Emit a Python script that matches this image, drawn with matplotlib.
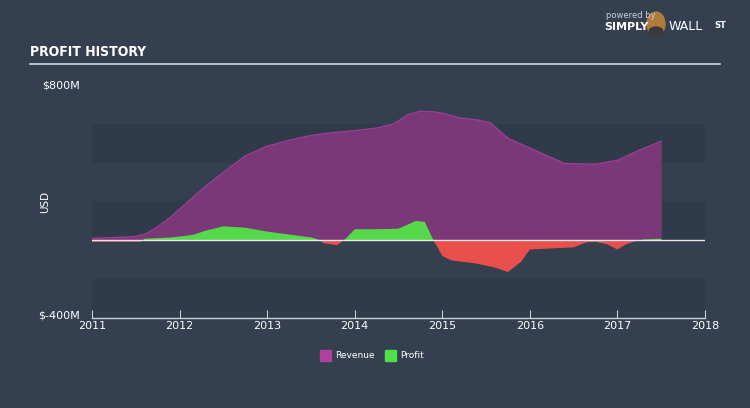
import numpy as np
import matplotlib.pyplot as plt
from matplotlib.patches import Ellipse

# values in $M
years_rev = [2011.0, 2011.25, 2011.5, 2011.6, 2011.75, 2011.9, 2012.0, 2012.15, 2012.3,
             2012.5, 2012.75, 2013.0, 2013.25, 2013.5, 2013.75, 2014.0, 2014.25,
             2014.45, 2014.6, 2014.75, 2014.9, 2015.0, 2015.2, 2015.4, 2015.55,
             2015.75, 2016.0, 2016.25, 2016.4, 2016.75, 2017.0, 2017.25, 2017.5]
revenue = [10, 14, 20, 30, 70, 120, 160, 220, 280, 350, 435, 485, 515, 540, 555,
           565, 578, 600, 645, 665, 662, 655, 630, 620, 605, 525, 475, 425, 395,
           392, 412, 464, 510]

years_prof = [2011.0, 2011.3, 2011.55, 2011.6, 2011.9, 2012.0, 2012.15, 2012.3,
              2012.5, 2012.75, 2013.0, 2013.25, 2013.5, 2013.58, 2013.65, 2013.8,
              2013.9, 2014.0, 2014.25, 2014.5, 2014.7, 2014.8, 2014.9, 2015.0,
              2015.1, 2015.4, 2015.6, 2015.75, 2015.9, 2016.0, 2016.5, 2016.65,
              2016.75, 2016.88, 2017.0, 2017.1, 2017.2, 2017.3, 2017.5]
profit = [-8, -8, -8, 8, 15, 20, 28, 50, 72, 65, 45, 30, 15, 5, -15, -25,
          10, 57, 57, 60, 100, 95, 0, -80, -103, -120, -140, -163, -110, -47,
          -36, -10, -8, -20, -47, -20, -5, 5, 8]

year_ticks = [2011, 2012, 2013, 2014, 2015, 2016, 2017, 2018]

bg = '#34404f'
band = '#303b4a'
purple = '#7b3878'
green = '#55d94b'
red = '#ea504b'

fig = plt.figure(figsize=(7.5, 4.08), dpi=100)
fig.patch.set_facecolor(bg)
ax = fig.add_axes([92 / 750, 1 - 318 / 408, 613 / 750, 233 / 408])
ax.set_facecolor(bg)

# alternating horizontal bands
for lo, hi in [(400, 600), (0, 200), (-400, -200)]:
    ax.axhspan(lo, hi, color=band, lw=0, zorder=0)

yr = np.array(years_rev)
rv = np.array(revenue)
ax.fill_between(yr, 0, rv, color=purple, lw=0, zorder=2)
ax.plot(yr, rv, color='#9a3f94', lw=1, zorder=2)

yp = np.array(years_prof)
pf = np.array(profit)
ax.fill_between(yp, 0, pf, where=pf >= 0, interpolate=True, color=green, lw=0, zorder=3)
ax.fill_between(yp, 0, pf, where=pf <= 0, interpolate=True, color=red, lw=0, zorder=3)
ax.axhline(0, color='#e6e6e6', lw=1, zorder=4)

ax.set_xlim(2011, 2018)
ax.set_ylim(-400, 800)
for s in ['top', 'right', 'left']:
    ax.spines[s].set_visible(False)
ax.spines['bottom'].set_color('#c9d1d9')
ax.spines['bottom'].set_linewidth(1)
ax.set_xticks(year_ticks)
ax.set_xticklabels([str(y) for y in year_ticks])
ax.tick_params(axis='x', colors='#c9d1d9', labelcolor='white', direction='in',
               length=6, labelsize=8, pad=2)
ax.set_yticks([])

fig.text(80 / 750, 1 - 85 / 408, '$800M', color='white', fontsize=8, ha='right', va='center')
fig.text(80 / 750, 1 - 315 / 408, '$-400M', color='white', fontsize=8, ha='right', va='center')
fig.text(45 / 750, 1 - 202 / 408, 'USD', color='white', fontsize=7.5, rotation=90,
         ha='center', va='center')

# header
fig.text(30 / 750, 1 - 52 / 408, 'PROFIT HISTORY', color='white', fontsize=10,
         fontweight='bold', fontstretch='condensed', family='DejaVu Sans',
         ha='left', va='center')
fig.add_artist(plt.Line2D([30 / 750, 720 / 750], [1 - 64 / 408, 1 - 64 / 408],
                          color='#c8d8e4', lw=1.2))
fig.text(606 / 750, 1 - 15 / 408, 'powered by', color='#c9d1d9', fontsize=6,
         ha='left', va='center')
fig.text(604 / 750, 1 - 27 / 408, 'SIMPLY', color='white', fontsize=8,
         fontweight='bold', ha='left', va='center')
fig.add_artist(Ellipse((656 / 750, 1 - 24 / 408), 18 / 750, 24 / 408,
                       color='#b07a3a', transform=fig.transFigure))
fig.add_artist(Ellipse((656 / 750, 1 - 32 / 408), 14 / 750, 10 / 408,
                       color='#3a3a42', transform=fig.transFigure))
fig.text(669 / 750, 1 - 27 / 408, 'WALL', color='white', fontsize=9,
         ha='left', va='center')
fig.text(714 / 750, 1 - 25 / 408, 'ST', color='white', fontsize=6,
         fontweight='bold', ha='left', va='center')

# legend
fig.patches.append(plt.Rectangle((320 / 750, 1 - 361 / 408), 11 / 750, 11 / 408,
                                 color='#b0409f', transform=fig.transFigure))
fig.text(335 / 750, 1 - 355.5 / 408, 'Revenue', color='white', fontsize=6.5,
         ha='left', va='center')
fig.patches.append(plt.Rectangle((385 / 750, 1 - 361 / 408), 11 / 750, 11 / 408,
                                 color='#4fe04a', transform=fig.transFigure))
fig.text(400 / 750, 1 - 355.5 / 408, 'Profit', color='white', fontsize=6.5,
         ha='left', va='center')

fig.savefig('out.png', dpi=100, facecolor=bg)
